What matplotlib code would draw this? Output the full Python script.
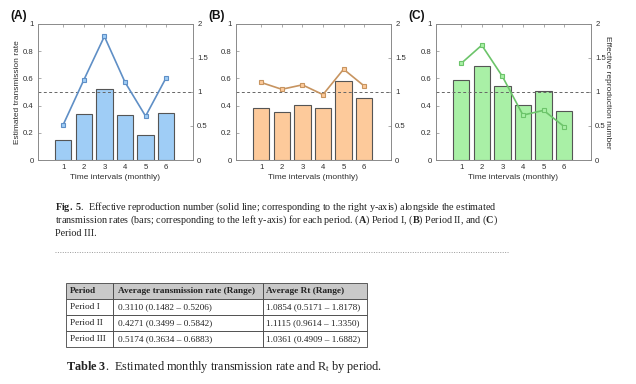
import matplotlib
matplotlib.use("Agg")
import matplotlib.pyplot as plt
from matplotlib.lines import Line2D

plt.rcParams['font.family'] = ['Liberation Sans', 'DejaVu Sans']
plt.rcParams['mathtext.fontset'] = 'custom'
plt.rcParams['mathtext.rm'] = 'Liberation Serif'
plt.rcParams['mathtext.it'] = 'Liberation Serif:italic'
plt.rcParams['mathtext.bf'] = 'Liberation Serif:bold'

# ---------------- data ----------------
months = [1, 2, 3, 4, 5, 6]
panel_labels = ["(A)", "(B)", "(C)"]
rate_I = [0.1482, 0.340, 0.5206, 0.330, 0.185, 0.342]
rt_I = [0.5171, 1.175, 1.8178, 1.145, 0.645, 1.212]
rate_II = [0.383, 0.3499, 0.408, 0.383, 0.5842, 0.4545]
rt_II = [1.140, 1.040, 1.105, 0.9614, 1.335, 1.088]
rate_III = [0.590, 0.6883, 0.545, 0.405, 0.510, 0.3634]
rt_III = [1.420, 1.6882, 1.230, 0.660, 0.730, 0.4909]
left_ticks = [0, 0.2, 0.4, 0.6, 0.8, 1]
right_ticks = [0, 0.5, 1, 1.5, 2]
right_ticklabels = ["0", "0.5", "1", "1.5", "2"]

table_header = ["Period", "Average transmission rate (Range)", "Average Rt (Range)"]
table_rows = [
    ["Period I", "0.3110 (0.1482 \u2013 0.5206)", "1.0854 (0.5171 \u2013 1.8178)"],
    ["Period II", "0.4271 (0.3499 \u2013 0.5842)", "1.1115 (0.9614 \u2013 1.3350)"],
    ["Period III", "0.5174 (0.3634 \u2013 0.6883)", "1.0361 (0.4909 \u2013 1.6882)"],
]

bar_colors = ["#9fcdf6", "#fdca9b", "#a9f0a6"]
line_colors = ["#5f8fc6", "#c79460", "#6cc46a"]
rates = [rate_I, rate_II, rate_III]
rts = [rt_I, rt_II, rt_III]

W, H = 636, 384
fig = plt.figure(figsize=(W / 100, H / 100), dpi=100)

def fx(px):
    return px / W

def fy(py):
    return 1 - py / H

lefts = [38, 236, 436]
ax_w = 155
top, bottom = 24, 160
spine_col = "#8a8a8a"
tick_col = "#303030"
fs = 5.6

for i in range(3):
    ax = fig.add_axes([fx(lefts[i]), fy(bottom), fx(ax_w), (bottom - top) / H])
    ax.bar(months, rates[i], width=0.8, color=bar_colors[i], edgecolor="#555555", linewidth=0.8, zorder=2)
    ax.set_xlim(-0.22, 7.3)
    ax.set_ylim(0, 1)
    ax.set_yticks(left_ticks)
    ax.set_yticklabels(["0", "0.2", "0.4", "0.6", "0.8", "1"])
    ax.set_xticks(months)
    ax.tick_params(axis='both', direction='in', length=2, width=0.5, colors=spine_col,
                   labelcolor=tick_col, labelsize=fs, pad=3, top=True)
    for s in ax.spines.values():
        s.set_color(spine_col)
        s.set_linewidth(0.6)
    ax.set_xlabel("Time intervals (monthly)", fontsize=fs + 0.4, color=tick_col, labelpad=2)
    if i == 0:
        ax.set_ylabel("Estimated transmission rate", fontsize=fs + 0.4, color=tick_col, labelpad=1.5)

    ax2 = ax.twinx()
    ax2.set_ylim(0, 2)
    ax2.set_yticks(right_ticks)
    ax2.set_yticklabels(right_ticklabels)
    ax2.tick_params(axis='y', direction='in', length=2, width=0.5, colors=spine_col,
                    labelcolor=tick_col, labelsize=fs, pad=3)
    for s in ax2.spines.values():
        s.set_color(spine_col)
        s.set_linewidth(0.6)
    ax2.axhline(1, color="#666666", linestyle=(0, (3, 2.5)), linewidth=0.7, zorder=1)
    ax2.plot(months, rts[i], color=line_colors[i], linewidth=1.2, marker='s', markersize=3.3,
             markerfacecolor=bar_colors[i], markeredgecolor=line_colors[i], markeredgewidth=0.8, zorder=3)
    if i == 2:
        ax2.set_ylabel("Effective reproduction number", fontsize=fs + 0.4, color=tick_col,
                       rotation=270, labelpad=4)

    fig.text(fx(lefts[i] - 28), fy(16), panel_labels[i], fontsize=8.6, fontweight='bold',
             color="#111111", ha='left', va='center')

# ---------------- caption ----------------
serif = ['Liberation Serif', 'DejaVu Serif']
cap_fs = 7.3
cap_lines = [
    r"$\mathbf{Fig.\ 5}$.  Effective reproduction number (solid line; corresponding to the right y-axis) alongside the estimated",
    r"transmission rates (bars; corresponding to the left y-axis) for each period. ($\mathbf{A}$) Period I, ($\mathbf{B}$) Period II, and ($\mathbf{C}$)",
    r"Period III.",
]
cap_y = [207, 220, 234]
for line, y in zip(cap_lines, cap_y):
    fig.text(fx(55), fy(y), line, family=serif, fontsize=cap_fs, color="#222222",
             ha='left', va='center')

fig.add_artist(Line2D([fx(55), fx(508)], [fy(252), fy(252)], color="#9a9a9a",
                      linewidth=0.7, linestyle=(0, (1, 1.5))))

# ---------------- table ----------------
tab_left, tab_top = 66, 283
col_w = [47, 150, 104]
row_h = 16
tax = fig.add_axes([fx(tab_left), fy(tab_top + 4 * row_h), fx(sum(col_w)), 4 * row_h / H])
tax.axis('off')
tbl = tax.table(cellText=table_rows, colLabels=table_header, cellLoc='left', colLoc='left',
                colWidths=[c / sum(col_w) for c in col_w], bbox=[0, 0, 1, 1])
tbl.auto_set_font_size(False)
for (r, c), cell in tbl.get_celld().items():
    cell.set_edgecolor("#444444")
    cell.set_linewidth(0.6)
    cell.PAD = 0.03 if c else 0.09
    txt = cell.get_text()
    txt.set_fontfamily(serif)
    txt.set_fontsize(6.7)
    txt.set_color("#222222")
    if r == 0:
        cell.set_facecolor("#c9c9c9")
        txt.set_fontweight('bold')
    else:
        cell.set_facecolor("white")

fig.text(fx(66), fy(367), r"$\mathbf{Table\ 3}$.  Estimated monthly transmission rate and R$_{\mathrm{t}}$ by period.",
         family=serif, fontsize=8.8, color="#222222", ha='left', va='center')

fig.savefig("out.png", dpi=100)
